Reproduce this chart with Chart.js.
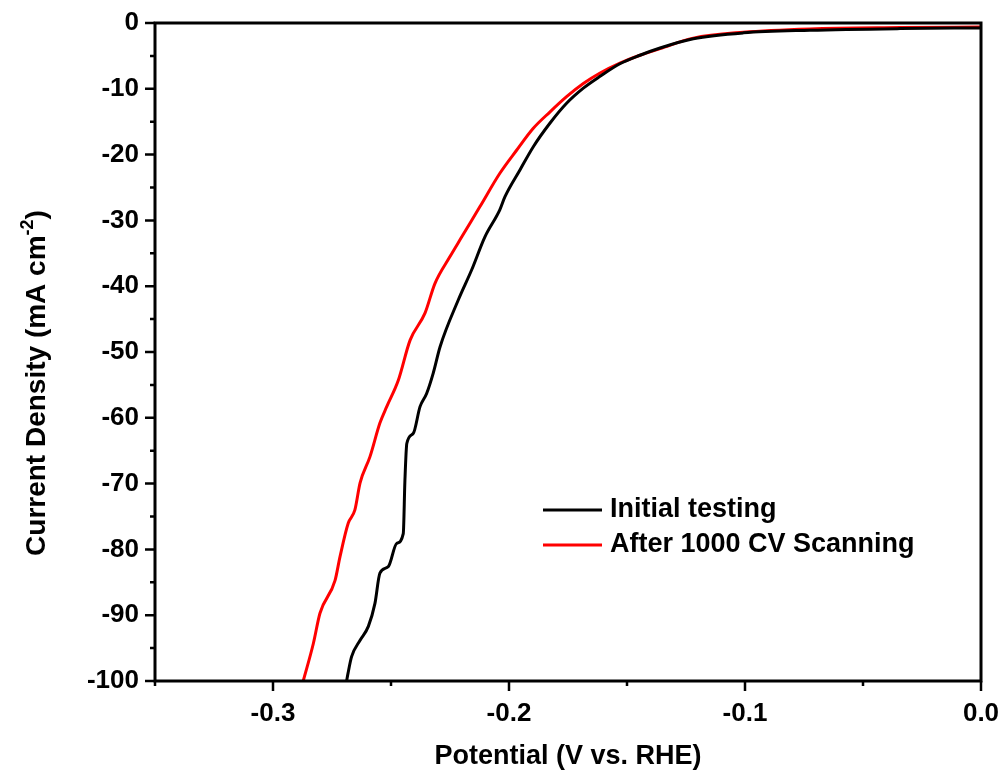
<!DOCTYPE html>
<html>
<head>
<meta charset="utf-8">
<script src="https://cdn.jsdelivr.net/npm/chart.js@4.4.0/dist/chart.umd.min.js"></script>
<style>
  html, body { margin: 0; padding: 0; background: #fff; }
  #lsv { display: block; }
</style>
</head>
<body>
<canvas id="lsv" width="1003" height="778"></canvas>
<script>
// curva inicial (negra)
const potInicial = [-0.2688, -0.2682, -0.2667, -0.2631, -0.2596, -0.2568, -0.2547, -0.2511, -0.2476, -0.2448,
    -0.2441, -0.2433, -0.2406, -0.2377, -0.2349, -0.2321, -0.2292, -0.2215, -0.2158, -0.2102,
    -0.2039, -0.2017, -0.1953, -0.1897, -0.1826, -0.1756, -0.1685, -0.1614, -0.1530, -0.1445,
    -0.1360, -0.1219, -0.1007, -0.0725, -0.0343, 0.0];
const jInicial = [-100, -98.8, -96.3, -93.8, -91.7, -88.2, -83.6, -82.6, -79.1, -77.6,
    -69.5, -63.9, -62.4, -58.3, -56.3, -53.2, -49.2, -42.1, -37.5, -32.5,
    -28.4, -26.4, -22.3, -18.8, -15.2, -12.2, -9.9, -8.1, -6.2, -4.9,
    -3.8, -2.4, -1.5, -1.1, -0.85, -0.75];

// despues de 1000 ciclos (roja)
const potCiclado = [-0.2872, -0.2829, -0.2801, -0.2737, -0.2716, -0.2681, -0.2653, -0.2631, -0.2589, -0.2547,
    -0.2518, -0.2469, -0.2419, -0.2356, -0.2314, -0.2250, -0.2200, -0.2123, -0.2038, -0.1967,
    -0.1897, -0.1826, -0.1756, -0.1685, -0.1614, -0.1530, -0.1445, -0.1360, -0.1219, -0.1007,
    -0.0725, -0.0343, 0.0];
const jCiclado = [-100, -94.3, -89.7, -84.7, -81.1, -76.0, -74.0, -69.9, -65.9, -60.8,
    -58.3, -54.3, -48.2, -44.1, -39.6, -35.5, -32.5, -27.9, -22.8, -19.3,
    -16.0, -13.5, -11.2, -9.2, -7.6, -6.1, -4.9, -3.9, -2.3, -1.4,
    -0.9, -0.7, -0.6];

const etiquetas = ['Initial testing', 'After 1000 CV Scanning'];
const xMayores = [-0.3, -0.2, -0.1, 0.0];
const xMenores = [-0.35, -0.25, -0.15, -0.05];
const yMayores = [0, -10, -20, -30, -40, -50, -60, -70, -80, -90, -100];
const yMenores = [-5, -15, -25, -35, -45, -55, -65, -75, -85, -95];

const fuente = "'Liberation Sans', Arial, sans-serif";

const marco = {
    id: 'marco',
    afterDraw(chart) {
        const ctx = chart.ctx;
        const { left, right, top, bottom } = chart.chartArea;
        const sx = chart.scales.x, sy = chart.scales.y;
        ctx.save();
        ctx.strokeStyle = '#000';
        ctx.lineWidth = 3;
        ctx.strokeRect(left, top, right - left, bottom - top);

        ctx.lineWidth = 2.5;
        ctx.beginPath();
        xMayores.forEach(v => { const p = sx.getPixelForValue(v); ctx.moveTo(p, bottom); ctx.lineTo(p, bottom + 10); });
        xMenores.forEach(v => { const p = sx.getPixelForValue(v); ctx.moveTo(p, bottom); ctx.lineTo(p, bottom + 5); });
        yMayores.forEach(v => { const p = sy.getPixelForValue(v); ctx.moveTo(left, p); ctx.lineTo(left - 10, p); });
        yMenores.forEach(v => { const p = sy.getPixelForValue(v); ctx.moveTo(left, p); ctx.lineTo(left - 5, p); });
        ctx.stroke();

        // titulo eje y con superindice
        ctx.fillStyle = '#000';
        ctx.translate(45, 383);
        ctx.rotate(-Math.PI / 2);
        ctx.textBaseline = 'alphabetic';
        const base = 'Current Density (mA cm';
        ctx.font = 'bold 28px ' + fuente;
        const w1 = ctx.measureText(base).width;
        ctx.font = 'bold 18px ' + fuente;
        const w2 = ctx.measureText('-2').width;
        ctx.font = 'bold 28px ' + fuente;
        const w3 = ctx.measureText(')').width;
        let x0 = -(w1 + w2 + w3) / 2;
        ctx.fillText(base, x0, 0);
        ctx.font = 'bold 18px ' + fuente;
        ctx.fillText('-2', x0 + w1, -12);
        ctx.font = 'bold 28px ' + fuente;
        ctx.fillText(')', x0 + w1 + w2, 0);
        ctx.restore();

        // leyenda
        ctx.save();
        ctx.font = 'bold 27px ' + fuente;
        ctx.textBaseline = 'middle';
        chart.data.datasets.forEach((ds, i) => {
            const yy = 510 + i * 35;
            ctx.strokeStyle = ds.borderColor;
            ctx.lineWidth = 3;
            ctx.beginPath();
            ctx.moveTo(543, yy);
            ctx.lineTo(602, yy);
            ctx.stroke();
            ctx.fillStyle = '#000';
            ctx.fillText(ds.label, 610, yy);
        });
        ctx.restore();
    }
};

const ctx = document.getElementById('lsv').getContext('2d');
new Chart(ctx, {
    type: 'line',
    data: {
        datasets: [{
            label: etiquetas[0],
            data: potInicial.map((v, i) => ({ x: v, y: jInicial[i] })),
            borderColor: '#000000',
            borderWidth: 3,
            pointRadius: 0,
            cubicInterpolationMode: 'monotone'
        }, {
            label: etiquetas[1],
            data: potCiclado.map((v, i) => ({ x: v, y: jCiclado[i] })),
            borderColor: '#ff0000',
            borderWidth: 3,
            pointRadius: 0,
            cubicInterpolationMode: 'monotone'
        }]
    },
    options: {
        responsive: false,
        animation: false,
        layout: { padding: { top: 23, right: 22, left: 0, bottom: 0 } },
        plugins: {
            legend: { display: false },
            tooltip: { enabled: false }
        },
        scales: {
            x: {
                type: 'linear',
                min: -0.35,
                max: 0,
                afterBuildTicks: s => { s.ticks = xMayores.map(v => ({ value: v })); },
                afterFit: s => { s.height = 97; s.paddingLeft = 0; s.paddingRight = 0; },
                grid: { display: false, drawTicks: false },
                border: { display: false },
                ticks: {
                    color: '#000',
                    padding: 17,
                    maxRotation: 0,
                    font: { family: fuente, size: 26, weight: 'bold' },
                    callback: v => Number(v).toFixed(1)
                },
                title: {
                    display: true,
                    text: 'Potential (V vs. RHE)',
                    color: '#000',
                    padding: { top: 0, bottom: 5 },
                    font: { family: fuente, size: 27, weight: 'bold' }
                }
            },
            y: {
                type: 'linear',
                min: -100,
                max: 0,
                afterBuildTicks: s => { s.ticks = yMayores.map(v => ({ value: v })); },
                afterFit: s => { s.width = 155; s.paddingTop = 0; s.paddingBottom = 0; },
                grid: { display: false, drawTicks: false },
                border: { display: false },
                ticks: {
                    color: '#000',
                    padding: 16,
                    font: { family: fuente, size: 26, weight: 'bold' },
                    callback: v => String(v)
                }
            }
        }
    },
    plugins: [marco]
});
</script>
</body>
</html>
